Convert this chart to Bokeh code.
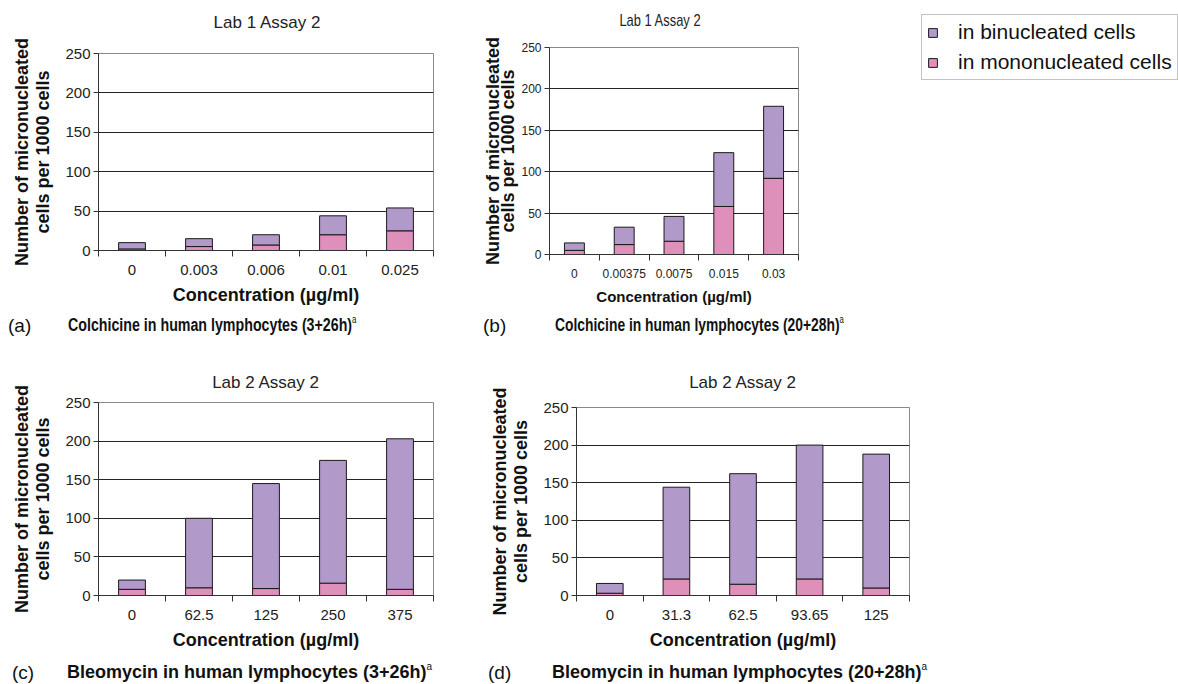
from bokeh.plotting import figure
from bokeh.models import Range1d, FixedTicker, Legend, LegendItem, Div, ColumnDataSource
from bokeh.layouts import column, row
from bokeh.embed import file_html
from bokeh.resources import INLINE

PURPLE = "#B199C9"
PINK = "#DF90BA"
EDGE = "#1a1a1a"

# ---------------- data ----------------
y_ticks = [0, 50, 100, 150, 200, 250]
series_names = ["in binucleated cells", "in mononucleated cells"]

conc_a = ["0", "0.003", "0.006", "0.01", "0.025"]
mono_a = [2, 5, 7, 20, 25]
bin_a = [8, 10, 13, 24, 29]

conc_b = ["0", "0.00375", "0.0075", "0.015", "0.03"]
mono_b = [5, 12, 16, 58, 92]
bin_b = [9, 21, 30, 65, 87]

conc_c = ["0", "62.5", "125", "250", "375"]
mono_c = [8, 10, 9, 16, 8]
bin_c = [12, 90, 136, 159, 195]

conc_d = ["0", "31.3", "62.5", "93.65", "125"]
mono_d = [3, 22, 15, 22, 10]
bin_d = [13, 122, 147, 178, 178]

FONT = "Liberation Sans"


def panel(title, cats, mono, binu, width, height, left, right, top, bottom,
          title_standoff=10, sizes=(17, 15, 15, 18), ylab_lh=1.05, ylab_standoff=9):
    t_size, xt_size, yt_size, xl_size = sizes
    n = len(cats)
    pos = list(range(1, n + 1))
    p = figure(width=width, height=height, min_border_left=left, min_border_right=right,
               min_border_top=top, min_border_bottom=bottom,
               x_range=Range1d(0.5, n + 0.5), y_range=Range1d(y_ticks[0], y_ticks[-1]),
               output_backend="svg", toolbar_location=None, title=title, margin=0,
               frame_align=False)
    src = ColumnDataSource(dict(x=pos, mono=mono, bin=binu))
    p.vbar_stack(["mono", "bin"], x="x", width=0.4, source=src,
                 fill_color=[PINK, PURPLE], line_color=EDGE, line_width=1)

    if title is not None:
        p.title.text_font = FONT
        p.title.text_font_size = f"{t_size}px"
        p.title.text_font_style = "normal"
        p.title.align = "center"
        p.title.text_color = "#222222"
        p.title.standoff = title_standoff

    xa = p.xaxis[0]
    xa.ticker = FixedTicker(ticks=pos, minor_ticks=[x - 0.5 for x in pos] + [pos[-1] + 0.5])
    xa.major_label_overrides = {x: c for x, c in zip(pos, cats)}
    xa.major_tick_out = 0
    xa.major_tick_in = 0
    xa.minor_tick_out = 6
    xa.minor_tick_in = 0
    xa.minor_tick_line_color = "#333333"
    xa.major_label_standoff = 8
    xa.major_label_text_font = FONT
    xa.major_label_text_font_size = f"{xt_size}px"
    xa.major_label_text_color = "#222222"
    xa.axis_label = "Concentration (µg/ml)"
    xa.axis_label_text_font = FONT
    xa.axis_label_text_font_size = f"{xl_size}px"
    xa.axis_label_text_font_style = "bold"
    xa.axis_label_text_color = "#111111"
    xa.axis_label_standoff = 7
    xa.axis_line_color = "#333333"

    ya = p.yaxis[0]
    ya.ticker = FixedTicker(ticks=y_ticks)
    ya.major_tick_out = 5
    ya.major_tick_in = 0
    ya.minor_tick_out = 0
    ya.minor_tick_in = 0
    ya.major_tick_line_color = "#333333"
    ya.major_label_standoff = 3
    ya.major_label_text_font = FONT
    ya.major_label_text_font_size = f"{yt_size}px"
    ya.major_label_text_color = "#222222"
    ya.axis_label = "Number of micronucleated\ncells per 1000 cells"
    ya.axis_label_text_font = FONT
    ya.axis_label_text_font_size = "18px"
    ya.axis_label_text_font_style = "bold"
    ya.axis_label_text_color = "#111111"
    ya.axis_label_text_line_height = ylab_lh
    ya.axis_label_standoff = ylab_standoff
    ya.axis_line_color = "#333333"

    p.ygrid.ticker = FixedTicker(ticks=y_ticks)
    p.ygrid.grid_line_color = "#222222"
    p.xgrid.visible = False
    p.outline_line_color = "#8a8a8a"
    p.background_fill_color = "white"
    p.border_fill_color = "white"
    return p, src


def title_div(text, width, height, cx, top, size, sx):
    html = (
        f'<div style="position:relative;width:{width}px;height:{height}px;">'
        f'<div style="position:absolute;left:{cx - 100}px;width:200px;top:{top}px;text-align:center;'
        f"font-family:'Liberation Sans',Arial,sans-serif;font-size:{size}px;line-height:20px;color:#222;"
        f'white-space:nowrap;transform:scaleX({sx});transform-origin:50% 0;">{text}</div></div>'
    )
    return Div(text=html, width=width, height=height, margin=0)


ta = title_div("Lab 1 Assay 2", 480, 36, 267, 13, 17, 1.0)
pa, _ = panel(None, conc_a, mono_a, bin_a, 480, 274, 98, 47, 17, 60)
tb = title_div("Lab 1 Assay 2", 427, 36, 180, 11, 17, 0.76)
pb, src_b = panel(None, conc_b, mono_b, bin_b, 427, 274, 68, 109, 11, 56,
                  sizes=(15, 12, 12, 15), ylab_lh=0.75, ylab_standoff=0)
pc, _ = panel("Lab 2 Assay 2", conc_c, mono_c, bin_c, 480, 312, 98, 47, 62, 57, 22)
pd, _ = panel("Lab 2 Assay 2", conc_d, mono_d, bin_d, 698, 312, 96, 269, 67, 57, 32)

# legend-only figure (right of panel b); its glyphs lie outside its visible range
pl = figure(width=271, height=310, x_range=Range1d(-3, -2), y_range=Range1d(0, 1),
            output_backend="svg", toolbar_location=None, min_border=0, margin=0,
            title=None, frame_align=False)
pl.axis.visible = False
pl.grid.visible = False
pl.outline_line_color = None
r_mono, r_bin = pl.vbar_stack(["mono", "bin"], x="x", width=0.4, source=src_b,
                              fill_color=[PINK, PURPLE], line_color=EDGE, line_width=1)
leg = Legend(items=[LegendItem(label=series_names[0], renderers=[r_bin]),
                    LegendItem(label=series_names[1], renderers=[r_mono])],
             location="top_left")
leg.border_line_color = "#888888"
leg.border_line_width = 1
leg.label_text_font = FONT
leg.label_text_font_size = "21px"
leg.label_text_color = "#111111"
leg.glyph_width = 11
leg.glyph_height = 11
leg.label_height = 22
leg.spacing = 6
leg.padding = 5
leg.label_standoff = 20
leg.margin = 14
leg.background_fill_alpha = 1.0
pl.add_layout(leg)


def caption(letter, text, width, height, lx, tx, top, sx):
    html = (
        f'<div style="position:relative;width:{width}px;height:{height}px;'
        f"font-family:'Liberation Sans',Arial,sans-serif;color:#111;\">"
        f'<span style="position:absolute;left:{lx}px;top:{top}px;font-size:19px;line-height:21px;">{letter}</span>'
        f'<span style="position:absolute;left:{tx}px;top:{top}px;font-size:18px;line-height:21px;font-weight:bold;'
        f'white-space:nowrap;transform:scaleX({sx});transform-origin:0 0;">{text}'
        f'<span style="font-size:10px;font-weight:normal;position:relative;top:-8px;">a</span></span></div>'
    )
    return Div(text=html, width=width, height=height, margin=0)


da = caption("(a)", "Colchicine in human lymphocytes (3+26h)", 480, 30, 8, 68, 5, 0.79)
db = caption("(b)", "Colchicine in human lymphocytes (20+28h)", 698, 30, 3, 75, 5, 0.77)
dc = caption("(c)", "Bleomycin in human lymphocytes (3+26h)", 480, 32, 12, 67, 10, 1.0)
dd = caption("(d)", "Bleomycin in human lymphocytes (20+28h)", 698, 32, 8, 72, 10, 1.0)

layout = column(row(column(ta, pa), column(tb, pb), pl),
                row(da, db), row(pc, pd), row(dc, dd))

open("out.html", "w").write(file_html(layout, INLINE))
